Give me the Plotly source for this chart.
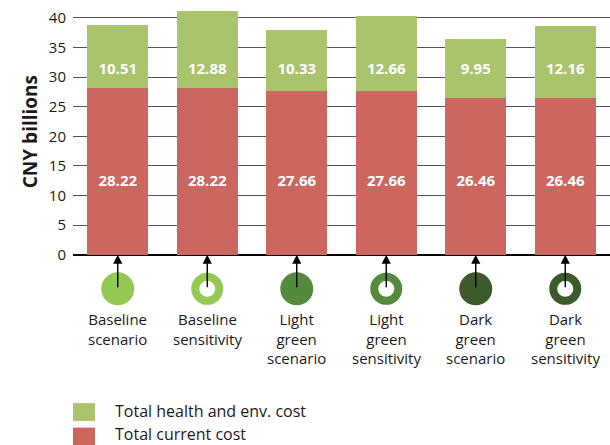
import plotly.graph_objects as go

# data
scenarios = [
    "Baseline<br>scenario",
    "Baseline<br>sensitivity",
    "Light<br>green<br>scenario",
    "Light<br>green<br>sensitivity",
    "Dark<br>green<br>scenario",
    "Dark<br>green<br>sensitivity",
]
current_cost = [28.22, 28.22, 27.66, 27.66, 26.46, 26.46]
health_env_cost = [10.51, 12.88, 10.33, 12.66, 9.95, 12.16]
y_ticks = [0, 5, 10, 15, 20, 25, 30, 35, 40]

# styles
_RED = "#cc665f"
_GREEN = "#a9c46b"
_ICON_COLORS = ["#93c953", "#93c953", "#548a3c", "#548a3c", "#3c5a2b", "#3c5a2b"]
_ICON_HOLLOW = [False, True, False, True, False, True]
_TEXT = "#1a1a1a"
_FONT = "Open Sans, sans-serif"

ICON_Y = -5.75         # circle centre, below zero line
LABEL_Y = -8.9         # top of the category text
SEG_LABEL_LOW = 12.3   # where the current-cost numbers sit
SEG_LABEL_HIGH = 31.2  # where the health/env numbers sit

x = list(range(len(scenarios)))

fig = go.Figure()
fig.add_trace(go.Bar(
    x=x, y=current_cost, name="Total current cost",
    marker=dict(color=_RED, line=dict(width=0)), width=0.68,
))
fig.add_trace(go.Bar(
    x=x, y=health_env_cost, name="Total health and env. cost",
    marker=dict(color=_GREEN, line=dict(width=0)), width=0.68,
))

# numbers inside the segments
fig.add_trace(go.Scatter(
    x=x, y=[SEG_LABEL_LOW] * len(x), mode="text",
    text=[f"{v:.2f}" for v in current_cost],
    textfont=dict(family=_FONT, size=15, color="white", weight="bold"),
    hoverinfo="skip",
))
fig.add_trace(go.Scatter(
    x=x, y=[SEG_LABEL_HIGH] * len(x), mode="text",
    text=[f"{v:.2f}" for v in health_env_cost],
    textfont=dict(family=_FONT, size=15, color="white", weight="bold"),
    hoverinfo="skip",
))

# scenario icons below the axis
fig.add_trace(go.Scatter(
    x=x, y=[ICON_Y] * len(x), mode="markers",
    marker=dict(
        size=[24 if h else 33 for h in _ICON_HOLLOW],
        color=["white" if h else c for c, h in zip(_ICON_COLORS, _ICON_HOLLOW)],
        line=dict(color=_ICON_COLORS, width=[8 if h else 0 for h in _ICON_HOLLOW]),
        opacity=1,
    ),
    hoverinfo="skip",
))

for i, label in zip(x, scenarios):
    fig.add_annotation(
        x=i, y=0, ax=i, ay=ICON_Y, xref="x", yref="y", axref="x", ayref="y",
        text="", showarrow=True, arrowhead=2, arrowsize=1.3, arrowwidth=1.4,
        arrowcolor="black", standoff=0,
    )
    fig.add_annotation(
        x=i, y=LABEL_Y, xref="x", yref="y", text=label, showarrow=False,
        yanchor="top", align="center",
        font=dict(family=_FONT, size=15, color=_TEXT),
    )

# y title, centred on the 0-40 part of the axis
fig.add_annotation(
    xref="paper", yref="paper", x=-0.08, y=0.648, textangle=-90,
    xanchor="center", yanchor="middle",
    text="<b>CNY billions</b>", showarrow=False,
    font=dict(family=_FONT, size=19, color=_TEXT),
)

# hand-made legend
legend_items = [("Total health and env. cost", _GREEN), ("Total current cost", _RED)]
for k, (name, color) in enumerate(legend_items):
    y_top = -0.126 - k * 0.07
    fig.add_shape(
        type="rect", xref="paper", yref="paper",
        x0=0.0, x1=0.041, y0=y_top - 0.051, y1=y_top,
        fillcolor=color, line=dict(width=0),
    )
    fig.add_annotation(
        xref="paper", yref="paper", x=0.075, y=-0.149 - k * 0.066,
        text=name, showarrow=False, xanchor="left", yanchor="middle",
        font=dict(family=_FONT, size=16, color=_TEXT),
    )

fig.update_layout(
    width=610, height=445,
    margin=dict(l=73, r=0, t=9, b=86),
    barmode="stack",
    bargap=0.32,
    paper_bgcolor="white",
    plot_bgcolor="white",
    showlegend=False,
    font=dict(family=_FONT, color=_TEXT),
    xaxis=dict(
        range=[-0.5, 5.5], showticklabels=False, showgrid=False,
        zeroline=False, showline=False, ticks="",
    ),
    yaxis=dict(
        range=[-17.6, 41.5], tickvals=y_ticks, showgrid=True,
        gridcolor="#555555", gridwidth=1,
        zeroline=True, zerolinecolor="black", zerolinewidth=1.5,
        tickfont=dict(family=_FONT, size=15, color=_TEXT),
        ticks="", ticklabelstandoff=6,
    ),
)

fig.write_html(
    "out.html",
    config={"displayModeBar": False},
    post_script="document.body.style.margin='0';",
)
